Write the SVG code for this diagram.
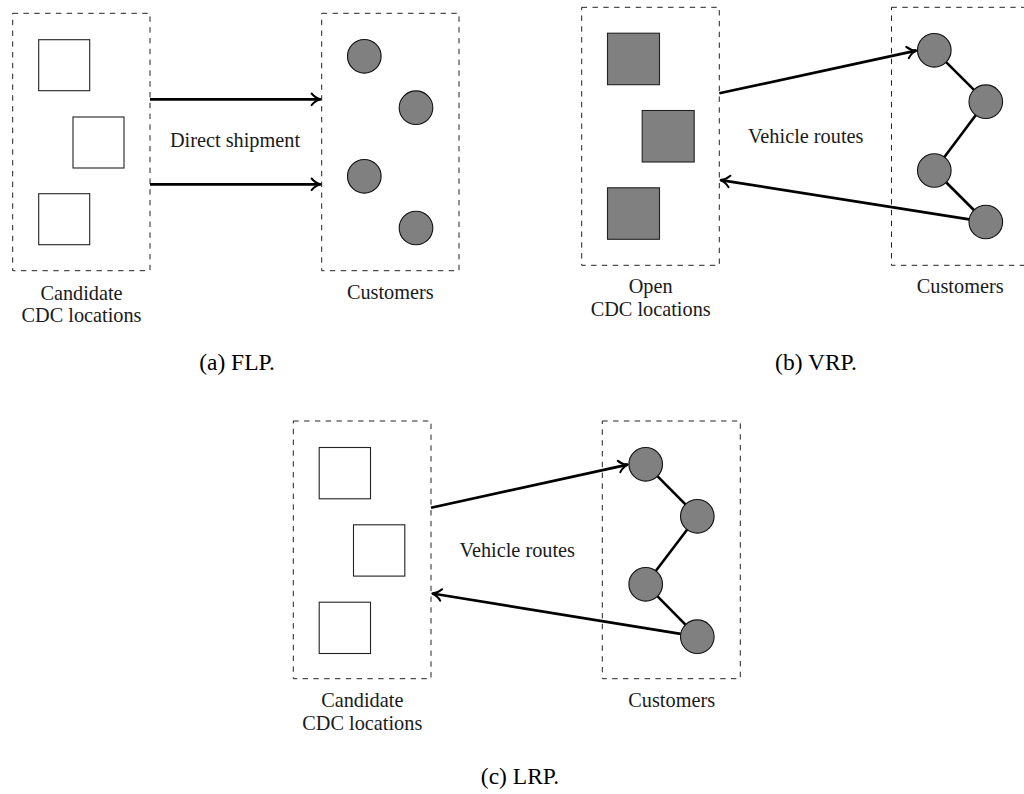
<svg xmlns="http://www.w3.org/2000/svg" width="1024" height="794" viewBox="0 0 1024 794">
  <style>
    .box { fill: none; stroke: #222222; stroke-width: 1; stroke-dasharray: 5.4 5.4; }
    .site { fill: #ffffff; stroke: #222222; stroke-width: 1.1; }
    .open { fill: #808080; stroke: #222222; stroke-width: 1.1; }
    .cust { fill: #808080; stroke: #111111; stroke-width: 1.1; }
    .flow { fill: none; stroke: #000000; stroke-width: 2.7; }
    .route { fill: none; stroke: #000000; stroke-width: 2.6; }
    text { font-family: 'Liberation Serif', 'Tinos', 'DejaVu Serif', serif; }
    .lbl { font-size: 20.3px; fill: #1a1a1a; text-anchor: middle; }
    .cap { font-size: 23.5px; fill: #000000; text-anchor: middle; }
  </style>
  <defs>
    <marker id="tip" viewBox="-12 -8 14 16" refX="0" refY="0" markerWidth="14" markerHeight="16" markerUnits="userSpaceOnUse" orient="auto" overflow="visible">
      <path d="M-9,-5.8 C-6,-2.2 -2.5,-0.6 0,0 C-2.5,0.6 -6,2.2 -9,5.8" fill="none" stroke="#000" stroke-width="2" stroke-linecap="round" stroke-linejoin="round"/>
    </marker>
  </defs>

  <!-- (a) facility location: direct shipment -->
  <g id="flp-sites">
    <rect class="box" x="12.7" y="13.3" width="137.3" height="257.4"/>
    <rect class="site" x="38.7" y="39.7" width="51" height="51"/>
    <rect class="site" x="73" y="117" width="51" height="51"/>
    <rect class="site" x="38.7" y="193.7" width="51" height="51"/>
    <text class="lbl" x="81.5" y="300" font-family="Liberation Serif, serif">Candidate</text>
    <text class="lbl" x="81.5" y="321.7" font-family="Liberation Serif, serif">CDC locations</text>
  </g>
  <g id="flp-customers">
    <rect class="box" x="321.7" y="13.3" width="137.3" height="257.4"/>
    <circle class="cust" cx="364.3" cy="56.3" r="16.8"/>
    <circle class="cust" cx="416" cy="107.7" r="16.8"/>
    <circle class="cust" cx="364.3" cy="176.3" r="16.8"/>
    <circle class="cust" cx="416" cy="228" r="16.8"/>
    <text class="lbl" x="390.3" y="299" font-family="Liberation Serif, serif">Customers</text>
  </g>
  <g id="flp-connectors">
    <line class="flow" x1="150" y1="99.3" x2="320.6" y2="99.3" marker-end="url(#tip)"/>
    <line class="flow" x1="150" y1="184.3" x2="320.6" y2="184.3" marker-end="url(#tip)"/>
    <text class="lbl" x="235" y="146.7" font-family="Liberation Serif, serif">Direct shipment</text>
  </g>
  <text class="cap" x="237" y="370" font-family="Liberation Serif, serif">(a) FLP.</text>

  <!-- (b) vehicle routing from open depots -->
  <g id="vrp-sites">
    <rect class="box" x="581.7" y="7.3" width="137.6" height="258"/>
    <rect class="open" x="607.5" y="33.2" width="52" height="51.5"/>
    <rect class="open" x="642.2" y="110.5" width="52" height="51.5"/>
    <rect class="open" x="607.5" y="187.8" width="52" height="51.5"/>
    <text class="lbl" x="650.7" y="293.3" font-family="Liberation Serif, serif">Open</text>
    <text class="lbl" x="650.7" y="316" font-family="Liberation Serif, serif">CDC locations</text>
  </g>
  <g id="vrp-customers">
    <rect class="box" x="891.5" y="7.3" width="137.6" height="258"/>
    <line class="route" x1="934.3" y1="50.3" x2="985.8" y2="101.7"/>
    <line class="route" x1="985.8" y1="101.7" x2="934.3" y2="170.5"/>
    <line class="route" x1="934.3" y1="170.5" x2="985.8" y2="222"/>
    <circle class="cust" cx="934.3" cy="50.3" r="16.8"/>
    <circle class="cust" cx="985.8" cy="101.7" r="16.8"/>
    <circle class="cust" cx="934.3" cy="170.5" r="16.8"/>
    <circle class="cust" cx="985.8" cy="222" r="16.8"/>
    <text class="lbl" x="960.2" y="293.3" font-family="Liberation Serif, serif">Customers</text>
  </g>
  <g id="vrp-connectors">
    <line class="flow" x1="719.3" y1="93.3" x2="916.3" y2="50.6" marker-end="url(#tip)"/>
    <line class="flow" x1="969.2" y1="219.4" x2="720.6" y2="180.1" marker-end="url(#tip)"/>
    <text class="lbl" x="805.7" y="142.7" font-family="Liberation Serif, serif">Vehicle routes</text>
  </g>
  <text class="cap" x="816" y="370" font-family="Liberation Serif, serif">(b) VRP.</text>

  <!-- (c) location-routing -->
  <g id="lrp-sites">
    <rect class="box" x="293.3" y="421" width="137.7" height="257.7"/>
    <rect class="site" x="319.2" y="447.5" width="51.3" height="51.3"/>
    <rect class="site" x="353.5" y="524.8" width="51.3" height="51.3"/>
    <rect class="site" x="319.2" y="602.2" width="51.3" height="51.3"/>
    <text class="lbl" x="362.3" y="707.3" font-family="Liberation Serif, serif">Candidate</text>
    <text class="lbl" x="362.3" y="730" font-family="Liberation Serif, serif">CDC locations</text>
  </g>
  <g id="lrp-customers">
    <rect class="box" x="602.3" y="421" width="138" height="257.7"/>
    <line class="route" x1="645.7" y1="464.3" x2="697.3" y2="516.3"/>
    <line class="route" x1="697.3" y1="516.3" x2="645.7" y2="584.3"/>
    <line class="route" x1="645.7" y1="584.3" x2="697.3" y2="636.7"/>
    <circle class="cust" cx="645.7" cy="464.3" r="16.8"/>
    <circle class="cust" cx="697.3" cy="516.3" r="16.8"/>
    <circle class="cust" cx="645.7" cy="584.3" r="16.8"/>
    <circle class="cust" cx="697.3" cy="636.7" r="16.8"/>
    <text class="lbl" x="671.7" y="707.3" font-family="Liberation Serif, serif">Customers</text>
  </g>
  <g id="lrp-connectors">
    <line class="flow" x1="431" y1="507.7" x2="627.8" y2="464.6" marker-end="url(#tip)"/>
    <line class="flow" x1="680.6" y1="633.8" x2="432.3" y2="593.5" marker-end="url(#tip)"/>
    <text class="lbl" x="517.3" y="556.7" font-family="Liberation Serif, serif">Vehicle routes</text>
  </g>
  <text class="cap" x="520" y="784" font-family="Liberation Serif, serif">(c) LRP.</text>
</svg>
